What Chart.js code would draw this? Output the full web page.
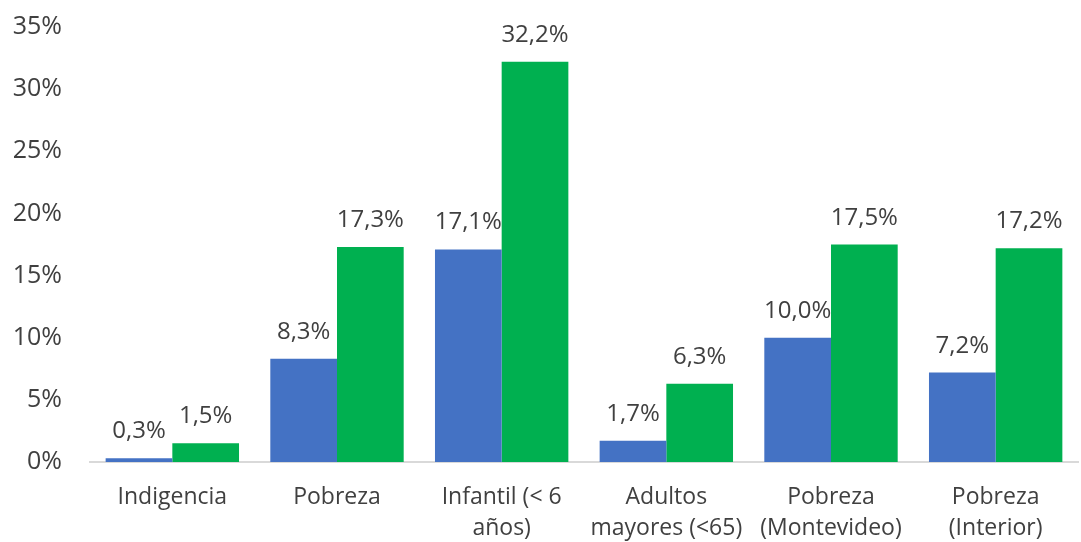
<!DOCTYPE html>
<html>
<head>
<meta charset="utf-8">
<script src="https://cdn.jsdelivr.net/npm/chart.js@4"></script>
<style>
  html, body { margin: 0; padding: 0; background: #fff; }
  #wrap { width: 1081px; height: 542px; }
</style>
</head>
<body>
<div id="wrap"><canvas id="myChart" width="1081" height="542"></canvas></div>
<script>
// Data
const categories = [
    'Indigencia',
    'Pobreza',
    ['Infantil (< 6', 'años)'],
    ['Adultos', 'mayores (<65)'],
    ['Pobreza', '(Montevideo)'],
    ['Pobreza', '(Interior)']
];
const seriesBlue = [0.3, 8.3, 17.1, 1.7, 10.0, 7.2];
const seriesGreen = [1.5, 17.3, 32.2, 6.3, 17.5, 17.2];
const yTicks = [0, 5, 10, 15, 20, 25, 30, 35];

const fontFamily = "'Open Sans', 'Liberation Sans', sans-serif";

function fmtPct(v, digits) {
    return v.toFixed(digits).replace('.', ',') + '%';
}

// Draws the value labels above each bar
const valueLabels = {
    id: 'valueLabels',
    afterDatasetsDraw(chart) {
        const ctx = chart.ctx;
        ctx.save();
        ctx.font = '24px ' + fontFamily;
        ctx.fillStyle = '#404040';
        ctx.textAlign = 'center';
        ctx.textBaseline = 'alphabetic';
        chart.data.datasets.forEach((ds, i) => {
            const meta = chart.getDatasetMeta(i);
            meta.data.forEach((bar, j) => {
                ctx.fillText(fmtPct(ds.data[j], 1), bar.x, bar.y - 20);
            });
        });
        ctx.restore();
    }
};

const ctx = document.getElementById('myChart').getContext('2d');
new Chart(ctx, {
    type: 'bar',
    data: {
        labels: categories,
        datasets: [{
            label: 'Serie 1',
            data: seriesBlue,
            backgroundColor: '#4472C4'
        }, {
            label: 'Serie 2',
            data: seriesGreen,
            backgroundColor: '#00B050'
        }]
    },
    options: {
        responsive: false,
        animation: false,
        layout: {
            padding: { left: 0, right: 3, top: 27, bottom: 0 }
        },
        plugins: {
            legend: { display: false },
            tooltip: { enabled: false }
        },
        datasets: {
            bar: {
                categoryPercentage: 0.81,
                barPercentage: 1
            }
        },
        scales: {
            x: {
                grid: { display: false, drawTicks: false },
                border: { display: true, color: '#d9d9d9', width: 2 },
                ticks: {
                    color: '#404040',
                    font: { family: fontFamily, size: 23, lineHeight: 1.35 },
                    padding: 20,
                    maxRotation: 0,
                    autoSkip: false
                },
                afterFit(scale) {
                    scale.height = 80;
                    scale.paddingLeft = 0;
                    scale.paddingRight = 0;
                }
            },
            y: {
                min: 0,
                max: 35,
                grid: { display: false, drawTicks: false },
                border: { display: false },
                afterBuildTicks(scale) {
                    scale.ticks = yTicks.map(v => ({ value: v }));
                },
                ticks: {
                    color: '#404040',
                    font: { family: fontFamily, size: 25 },
                    padding: 28,
                    callback: v => v + '%'
                },
                // keep the plot area where the reference has it
                afterFit(scale) {
                    scale.width = 90;
                    scale.paddingTop = 0;
                    scale.paddingBottom = 0;
                }
            }
        }
    },
    plugins: [valueLabels]
});
</script>
</body>
</html>
